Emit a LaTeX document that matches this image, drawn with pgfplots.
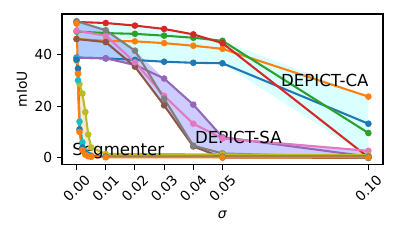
\documentclass[border=0pt]{standalone}
\usepackage{pgfplots}
\pgfplotsset{compat=1.18}
\usepackage{fontspec}
\setmainfont{DejaVu Sans}
\definecolor{tabblue}{HTML}{1F77B4}
\definecolor{taborange}{HTML}{FF7F0E}
\definecolor{tabgreen}{HTML}{2CA02C}
\definecolor{tabred}{HTML}{D62728}
\definecolor{tabpurple}{HTML}{9467BD}
\definecolor{tabbrown}{HTML}{8C564B}
\definecolor{tabpink}{HTML}{E377C2}
\definecolor{tabgray}{HTML}{7F7F7F}
\definecolor{tabolive}{HTML}{BCBD22}
\definecolor{tabcyan}{HTML}{17BECF}
\definecolor{fillcyan}{RGB}{0,255,255}
\definecolor{fillblue}{RGB}{0,0,255}
\definecolor{fillorange}{RGB}{255,128,0}
\begin{document}
\begin{tikzpicture}
\begin{axis}[
  scale only axis,
  width=232pt, height=109pt,
  xmin=-0.005, xmax=0.105,
  ymin=-2.7, ymax=55.7,
  xtick={0,0.01,0.02,0.03,0.04,0.05,0.1},
  xticklabels={0.00,0.01,0.02,0.03,0.04,0.05,0.10},
  ytick={0,20,40},
  scaled x ticks=false,
  tick align=outside,
  major tick length=3.5pt,
  every tick/.style={black, line width=0.8pt},
  axis line style={line width=0.8pt},
  xtick pos=bottom, ytick pos=left,
  tick label style={font=\fontsize{10}{12}\selectfont},
  /pgf/number format/assume math mode=true,
  xticklabel style={yshift=-13.5pt, rotate=45, anchor=center},
  xlabel={\textit{σ}},
  ylabel={mIoU},
  label style={font=\fontsize{10}{12}\selectfont},
  xlabel style={at={(axis description cs:0.5,-0.331)}, anchor=center},
  ylabel style={at={(axis description cs:-0.125,0.5)}, anchor=center},
  clip=true,
  every axis plot/.append style={line width=1.5pt},
]
% fills
\addplot[draw=none, fill=fillcyan, fill opacity=0.15] coordinates {
 (0,52.6) (0.01,52.2) (0.02,51.2) (0.03,49.9) (0.04,47.8) (0.05,45.3) (0.1,23.7)
 (0.1,0.2) (0.05,36.6) (0.04,36.8) (0.03,37.2) (0.02,37.9) (0.01,38.5) (0,38.8)} -- cycle;
\addplot[draw=none, fill=fillblue, fill opacity=0.2] coordinates {
 (0,52.9) (0.01,49.4) (0.02,41.5) (0.03,30.7) (0.04,20.6) (0.05,8.0) (0.1,2.7)
 (0.1,0.0) (0.05,0.1) (0.04,4.4) (0.03,20.3) (0.02,35.3) (0.01,38.5) (0,38.8)} -- cycle;
\addplot[draw=none, fill=fillorange, fill opacity=0.2] coordinates {
 (0,52.0) (0.0005,34.6) (0.001,28.5) (0.002,24.9) (0.003,17.7) (0.004,9.0) (0.005,4.0) (0.01,1.5) (0.05,1.3) (0.1,1.0)
 (0.1,0.2) (0.05,0.2) (0.01,0.2) (0.005,0.4) (0.004,0.6) (0.003,1.2) (0.002,3.0) (0.001,10.0) (0.0005,30.0) (0,37.6)} -- cycle;
% DEPICT-CA
\addplot[tabblue, mark=*, mark size=1.6pt] coordinates {(0,38.8) (0.01,38.5) (0.02,37.9) (0.03,37.2) (0.04,36.8) (0.05,36.6) (0.1,13.2)};
\addplot[taborange, mark=*, mark size=1.6pt] coordinates {(0,46.0) (0.01,45.3) (0.02,45.1) (0.03,44.4) (0.04,43.4) (0.05,42.2) (0.1,23.7)};
\addplot[tabgreen, mark=*, mark size=1.6pt] coordinates {(0,48.9) (0.01,48.3) (0.02,48.0) (0.03,47.3) (0.04,46.5) (0.05,45.3) (0.1,9.6)};
\addplot[tabred, mark=*, mark size=1.6pt] coordinates {(0,52.6) (0.01,52.2) (0.02,51.2) (0.03,49.9) (0.04,47.8) (0.05,44.4) (0.1,0.2)};
% DEPICT-SA
\addplot[tabpurple, mark=*, mark size=1.6pt] coordinates {(0,38.8) (0.01,38.5) (0.02,36.0) (0.03,30.7) (0.04,20.6) (0.05,8.0) (0.1,0.5)};
\addplot[tabbrown, mark=*, mark size=1.6pt] coordinates {(0,46.0) (0.01,44.8) (0.02,35.3) (0.03,20.3) (0.04,4.4) (0.05,0.1) (0.1,0.0)};
\addplot[tabpink, mark=*, mark size=1.6pt] coordinates {(0,49.2) (0.01,47.3) (0.02,37.0) (0.03,24.0) (0.04,13.2) (0.05,7.5) (0.1,2.7)};
\addplot[tabgray, mark=*, mark size=1.6pt] coordinates {(0,52.9) (0.01,49.4) (0.02,41.5) (0.03,22.9) (0.04,4.7) (0.05,1.7) (0.1,0.0)};
% Segmenter
\addplot[tabolive, mark=*, mark size=1.6pt] coordinates {(0,37.6) (0.0005,33.0) (0.001,28.5) (0.002,24.9) (0.003,17.7) (0.004,9.0) (0.005,4.0) (0.01,1.5) (0.05,1.3) (0.1,1.0)};
\addplot[tabcyan, mark=*, mark size=1.6pt] coordinates {(0,38.5) (0.0005,30.0) (0.001,14.0) (0.002,6.0) (0.003,2.5) (0.004,1.2) (0.005,0.8) (0.01,0.5) (0.05,0.5) (0.1,0.5)};
\addplot[tabblue, mark=*, mark size=1.6pt] coordinates {(0,38.0) (0.0005,34.6) (0.001,11.0) (0.002,4.0) (0.003,1.8) (0.004,1.0) (0.005,0.6) (0.01,0.4) (0.05,0.4) (0.1,0.4)};
\addplot[taborange, mark=*, mark size=1.6pt] coordinates {(0,52.0) (0.0005,32.5) (0.001,10.0) (0.002,3.0) (0.003,1.2) (0.004,0.6) (0.005,0.4) (0.01,0.2) (0.05,0.2) (0.1,0.2)};
\node[anchor=base west, inner sep=0pt, font=\fontsize{12}{14}\selectfont] at (axis cs:0.07,27.5) {DEPICT-CA};
\node[anchor=base west, inner sep=0pt, font=\fontsize{12}{14}\selectfont] at (axis cs:0.0405,5.5) {DEPICT-SA};
\node[anchor=base west, inner sep=0pt, font=\fontsize{12}{14}\selectfont] at (axis cs:-0.0015,0.8) {Segmenter};
\end{axis}
\pgfresetboundingbox
\path (current axis.south west) ++(-44.8pt,-54.2pt);
\path (current axis.north east) ++(12.3pt,10.1pt);
\end{tikzpicture}
\end{document}
